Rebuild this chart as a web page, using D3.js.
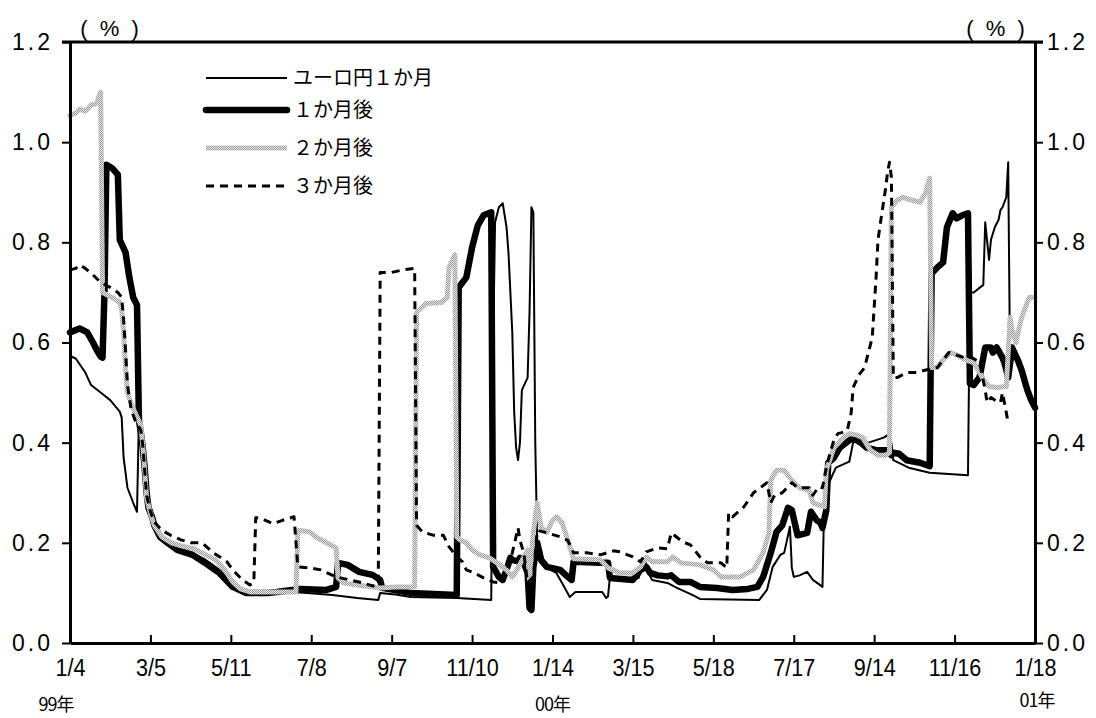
<!DOCTYPE html>
<html><head><meta charset="utf-8">
<script src="https://cdn.jsdelivr.net/npm/d3@7"></script>
<style>
html,body{margin:0;padding:0;background:#fff;}
svg{display:block;}
</style></head>
<body>
<svg id="chart" width="1096" height="718"></svg>
<script>
// ---- data (x = business-day index from 99/1/4, value in %) ----
const seriesNames = ["ユーロ円１か月", "１か月後", "２か月後", "３か月後"];
const xTickIdx = [0,42,84,126,168,210,252,294,336,378,420,462,504];
const xTickLabels = ["1/4","3/5","5/11","7/8","9/7","11/10","1/14","3/15","5/18","7/17","9/14","11/16","1/18"];
const yearLabels = [["99年",0],["00年",252],["01年",504]];
const yTicks = [0,0.2,0.4,0.6,0.8,1.0,1.2];

const euroyen1m = [[0,0.573],[3,0.568],[8,0.54],[11,0.515],[16,0.5],[21,0.485],[26,0.462],[27,0.45],[28,0.37],[30,0.31],[33,0.28],[35,0.262],[36,0.45],[37,0.42],[38,0.38],[39,0.33],[40,0.29],[42,0.255],[44,0.232],[47,0.212],[50,0.2],[54,0.19],[60,0.183],[64,0.18],[70,0.168],[73,0.16],[78,0.146],[82,0.13],[85,0.112],[90,0.102],[99,0.096],[108,0.1],[116,0.102],[124,0.1],[137,0.096],[150,0.09],[161,0.086],[162,0.1],[170,0.097],[178,0.092],[202,0.09],[220,0.086],[221,0.6],[222,0.84],[224,0.87],[226,0.878],[228,0.83],[229,0.78],[231,0.62],[232,0.46],[233,0.39],[234,0.365],[235,0.4],[236,0.505],[239,0.53],[240,0.66],[241,0.87],[242,0.86],[243,0.4],[244,0.205],[246,0.186],[248,0.152],[254,0.14],[257,0.12],[261,0.092],[264,0.102],[278,0.102],[280,0.09],[281,0.093],[282,0.132],[294,0.126],[297,0.13],[300,0.17],[302,0.14],[304,0.126],[312,0.12],[317,0.11],[325,0.096],[329,0.088],[360,0.086],[364,0.106],[367,0.152],[371,0.176],[373,0.18],[376,0.232],[377,0.15],[378,0.132],[381,0.135],[385,0.142],[388,0.126],[392,0.115],[393,0.112],[394,0.3],[397,0.325],[400,0.35],[407,0.362],[409,0.4],[413,0.405],[417,0.4],[421,0.405],[425,0.41],[427,0.415],[429,0.4],[430,0.365],[438,0.35],[449,0.34],[469,0.335],[470,0.7],[472,0.7],[477,0.715],[478,0.84],[480,0.765],[481,0.805],[483,0.83],[485,0.845],[486,0.865],[487,0.87],[489,0.89],[490,0.96],[491,0.54],[493,0.58],[495,0.56],[498,0.53],[501,0.5],[504,0.475]];

const fwd1m = [[0,0.62],[3,0.625],[5,0.628],[9,0.62],[12,0.6],[14,0.585],[16,0.572],[17,0.57],[18,0.7],[19,0.955],[22,0.948],[25,0.935],[26,0.805],[29,0.78],[31,0.73],[33,0.69],[35,0.675],[36,0.445],[37,0.42],[38,0.39],[39,0.35],[40,0.3],[41,0.27],[43,0.25],[44,0.235],[47,0.212],[51,0.2],[56,0.186],[64,0.176],[72,0.156],[78,0.14],[85,0.112],[92,0.1],[103,0.1],[108,0.102],[120,0.108],[134,0.106],[139,0.112],[140,0.16],[145,0.156],[151,0.142],[158,0.136],[162,0.126],[163,0.11],[178,0.1],[202,0.096],[203,0.71],[204,0.715],[207,0.73],[210,0.79],[213,0.834],[216,0.854],[220,0.86],[221,0.152],[224,0.132],[226,0.126],[228,0.146],[230,0.17],[231,0.166],[234,0.163],[235,0.17],[237,0.16],[239,0.14],[240,0.07],[241,0.066],[242,0.152],[244,0.2],[246,0.166],[249,0.152],[256,0.146],[260,0.132],[262,0.126],[263,0.162],[277,0.16],[281,0.16],[282,0.13],[294,0.126],[298,0.146],[301,0.152],[303,0.14],[307,0.135],[312,0.133],[314,0.135],[318,0.122],[324,0.122],[329,0.112],[338,0.11],[346,0.106],[354,0.108],[359,0.112],[362,0.132],[366,0.18],[369,0.222],[372,0.235],[375,0.27],[377,0.265],[380,0.215],[385,0.22],[387,0.262],[390,0.245],[392,0.24],[393,0.23],[395,0.265],[396,0.36],[399,0.37],[402,0.39],[407,0.405],[409,0.41],[413,0.4],[416,0.39],[421,0.385],[427,0.385],[429,0.375],[430,0.38],[433,0.378],[437,0.365],[444,0.36],[449,0.353],[450,0.738],[453,0.75],[456,0.76],[458,0.83],[461,0.858],[463,0.848],[466,0.854],[469,0.858],[470,0.518],[472,0.515],[475,0.53],[478,0.59],[481,0.59],[482,0.58],[484,0.59],[487,0.57],[488,0.56],[490,0.53],[492,0.59],[495,0.565],[497,0.545],[500,0.505],[502,0.485],[504,0.47]];

const fwd2m = [[0,1.054],[3,1.058],[5,1.066],[8,1.062],[11,1.074],[14,1.078],[15,1.09],[16,1.1],[17,0.7],[22,0.69],[26,0.68],[27,0.665],[28,0.62],[29,0.55],[30,0.5],[33,0.468],[37,0.435],[38,0.395],[39,0.345],[40,0.29],[42,0.258],[44,0.235],[48,0.212],[53,0.2],[58,0.194],[65,0.188],[70,0.178],[76,0.166],[81,0.145],[85,0.122],[89,0.108],[94,0.102],[110,0.102],[118,0.102],[119,0.225],[125,0.222],[129,0.21],[134,0.2],[139,0.19],[140,0.13],[143,0.12],[150,0.116],[162,0.11],[170,0.112],[180,0.112],[181,0.66],[186,0.678],[194,0.68],[197,0.69],[198,0.75],[201,0.775],[202,0.212],[204,0.205],[207,0.2],[210,0.186],[214,0.176],[219,0.17],[223,0.16],[228,0.146],[231,0.132],[234,0.15],[239,0.186],[240,0.126],[242,0.22],[244,0.28],[246,0.232],[249,0.22],[252,0.245],[254,0.252],[257,0.24],[260,0.205],[262,0.18],[263,0.168],[277,0.166],[281,0.15],[287,0.14],[294,0.14],[298,0.152],[301,0.172],[304,0.162],[312,0.162],[315,0.172],[319,0.16],[329,0.156],[336,0.146],[340,0.132],[350,0.132],[357,0.146],[362,0.18],[365,0.22],[366,0.325],[369,0.345],[373,0.345],[377,0.325],[381,0.31],[386,0.305],[388,0.28],[392,0.275],[394,0.272],[395,0.345],[399,0.39],[404,0.41],[407,0.418],[411,0.415],[414,0.41],[418,0.385],[422,0.375],[426,0.375],[428,0.38],[429,0.87],[432,0.884],[435,0.89],[440,0.884],[444,0.88],[447,0.9],[449,0.928],[450,0.55],[453,0.55],[456,0.565],[460,0.58],[463,0.575],[468,0.565],[472,0.56],[475,0.54],[478,0.52],[480,0.512],[484,0.51],[489,0.512],[491,0.65],[492,0.625],[494,0.6],[497,0.65],[501,0.69],[504,0.69]];

const fwd3m = [[0,0.745],[3,0.748],[5,0.755],[8,0.748],[12,0.735],[16,0.72],[21,0.71],[25,0.7],[27,0.69],[28,0.645],[29,0.585],[30,0.515],[32,0.465],[34,0.445],[37,0.425],[38,0.395],[39,0.345],[40,0.295],[42,0.262],[44,0.242],[48,0.225],[53,0.214],[58,0.206],[63,0.2],[69,0.2],[75,0.18],[82,0.162],[85,0.146],[90,0.126],[94,0.116],[96,0.12],[97,0.25],[99,0.25],[106,0.238],[111,0.245],[117,0.252],[119,0.152],[125,0.15],[131,0.146],[139,0.132],[146,0.126],[153,0.12],[158,0.114],[161,0.116],[162,0.74],[168,0.74],[174,0.745],[180,0.748],[181,0.235],[184,0.222],[190,0.215],[195,0.215],[198,0.192],[202,0.172],[205,0.162],[207,0.146],[211,0.14],[216,0.13],[221,0.122],[225,0.12],[228,0.14],[231,0.18],[234,0.23],[235,0.205],[237,0.18],[239,0.12],[242,0.132],[244,0.225],[249,0.22],[256,0.212],[260,0.205],[263,0.18],[270,0.18],[277,0.176],[284,0.184],[287,0.182],[294,0.172],[298,0.162],[301,0.182],[307,0.19],[312,0.188],[314,0.22],[320,0.202],[324,0.196],[329,0.172],[333,0.16],[340,0.16],[343,0.15],[344,0.26],[346,0.252],[352,0.272],[357,0.3],[364,0.32],[366,0.28],[368,0.295],[372,0.3],[377,0.32],[380,0.31],[386,0.31],[388,0.295],[391,0.312],[393,0.31],[395,0.35],[397,0.38],[399,0.405],[401,0.418],[403,0.42],[406,0.425],[408,0.46],[409,0.51],[412,0.535],[415,0.55],[419,0.61],[421,0.73],[422,0.805],[424,0.858],[426,0.908],[427,0.94],[428,0.96],[429,0.93],[430,0.53],[432,0.53],[437,0.54],[442,0.54],[447,0.545],[453,0.55],[456,0.565],[459,0.58],[463,0.575],[467,0.57],[471,0.57],[475,0.56],[478,0.505],[479,0.48],[481,0.49],[483,0.485],[486,0.48],[487,0.5],[489,0.46],[490,0.44]];

// ---- drawing ----
const svg = d3.select("#chart");
const L = 70, R = 1035, T = 42, B = 643;
const x = d3.scaleLinear().domain([0, 504]).range([L, R]);
const y = d3.scaleLinear().domain([0, 1.2]).range([B, T]);
const JP = "'Noto Sans CJK JP', 'Noto Sans', sans-serif";
const NUM = "'Liberation Sans', Arial, sans-serif";

const defs = svg.append("defs");
const pat = defs.append("pattern").attr("id","grayTex").attr("width",2).attr("height",2)
  .attr("patternUnits","userSpaceOnUse");
pat.append("rect").attr("width",2).attr("height",2).attr("fill","#e4e4e4");
pat.append("rect").attr("width",1).attr("height",1).attr("fill","#9c9c9c");
pat.append("rect").attr("x",1).attr("y",1).attr("width",1).attr("height",1).attr("fill","#9c9c9c");

const styles = [
  {stroke:"#000", width:2, dash:null},
  {stroke:"#000", width:6.5, dash:null},
  {stroke:"url(#grayTex)", width:5, dash:null},
  {stroke:"#000", width:3, dash:"8,6"}
];
const allSeries = [euroyen1m, fwd1m, fwd2m, fwd3m];

const line = d3.line().x(d => x(d[0])).y(d => y(d[1]));
const plot = svg.append("g");
allSeries.forEach((s, i) => {
  plot.append("path").datum(s).attr("d", line)
    .attr("fill","none").attr("stroke", styles[i].stroke)
    .attr("stroke-width", styles[i].width)
    .attr("stroke-linejoin","round")
    .attr("stroke-linecap", styles[i].dash ? "butt" : "round")
    .attr("stroke-dasharray", styles[i].dash);
});

// axes
const yl = svg.append("g").attr("transform",`translate(${L},0)`)
  .call(d3.axisLeft(y).tickValues(yTicks).tickFormat(d3.format(".1f")).tickSize(8).tickSizeOuter(0).tickPadding(9));
const yr = svg.append("g").attr("transform",`translate(${R},0)`)
  .call(d3.axisRight(y).tickValues(yTicks).tickFormat(d3.format(".1f")).tickSize(8).tickSizeOuter(0).tickPadding(4));
const xb = svg.append("g").attr("transform",`translate(0,${B})`)
  .call(d3.axisBottom(x).tickValues(xTickIdx).tickFormat((d,i)=>xTickLabels[i]).tickSize(-8).tickSizeOuter(0).tickPadding(16));
[yl, yr, xb].forEach(g => {
  g.select(".domain").attr("stroke","#000").attr("stroke-width",3);
  g.selectAll(".tick line").attr("stroke","#000").attr("stroke-width",2);
  g.selectAll("text").attr("fill","#000").style("font-family", NUM);
});
yl.selectAll("text").style("font-size","23px").style("letter-spacing","3px");
yr.selectAll("text").style("font-size","23px").style("letter-spacing","3px");
xb.selectAll("text").style("font-size","24px").attr("transform","scale(0.9,1)");
// top frame
svg.append("line").attr("x1",x(0)-8).attr("x2",x(504)+8).attr("y1",y(1.2)).attr("y2",y(1.2))
  .attr("stroke","#000").attr("stroke-width",3);

// unit labels
[111, 997].forEach(cx => {
  svg.append("text").attr("x",cx).attr("y",36).attr("text-anchor","middle")
    .style("font-family",NUM).style("font-size","22px").style("letter-spacing","3px")
    .text("( % )");
});

// year labels
yearLabels.forEach(([t, idx], i) => {
  svg.append("text").attr("x", x(idx) + (i===0 ? -14 : (i===2 ? 2 : 0)))
    .attr("y", i===2 ? 707 : 711).attr("text-anchor","middle")
    .style("font-family",JP).style("font-size","18px").style("letter-spacing","-1px").text(t);
});

// legend
const lg = svg.append("g");
const legY = [78, 110, 148, 186];
seriesNames.forEach((n, i) => {
  lg.append("line").attr("x1",206).attr("x2",287).attr("y1",legY[i]).attr("y2",legY[i])
    .attr("stroke", styles[i].stroke).attr("stroke-width", styles[i].width)
    .attr("stroke-linecap", (i===1) ? "round" : "butt")
    .attr("stroke-dasharray", styles[i].dash);
  lg.append("text").attr("x",293).attr("y",legY[i]).attr("dy","0.35em")
    .style("font-family",JP).style("font-size","20px").text(n);
});
</script>
</body></html>
